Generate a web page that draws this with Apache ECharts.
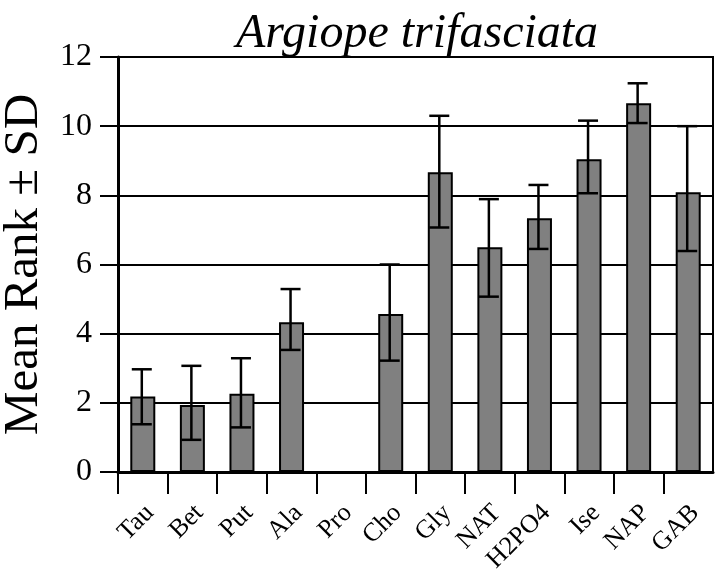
<!DOCTYPE html>
<html>
<head>
<meta charset="utf-8">
<script src="https://cdn.jsdelivr.net/npm/echarts@6/dist/echarts.min.js"></script>
<style>
html,body{margin:0;padding:0;background:#fff;}
#chart{width:715px;height:575px;}
</style>
</head>
<body>
<div id="chart"></div>
<script>
const categories = ['Tau','Bet','Put','Ala','Pro','Cho','Gly','NAT','H2PO4','Ise','NAP','GAB'];
const meanRank = [2.18, 1.94, 2.26, 4.33, 0, 4.57, 8.67, 6.50, 7.34, 9.04, 10.66, 8.09];
const sdUpper  = [2.97, 3.07, 3.29, 5.29, null, 6.00, 10.30, 7.89, 8.30, 10.16, 11.24, 10.00];
const sdLower  = [1.38, 0.93, 1.29, 3.53, null, 3.22, 7.07, 5.07, 6.45, 8.06, 10.09, 6.39];
const yMin = 0, yMax = 12, yStep = 2;
const titleText = 'Argiope trifasciata';
const yName = 'Mean Rank \u00B1 SD';

const FONT = "'Liberation Serif','Times New Roman',serif";

const errData = [];
categories.forEach((c, i) => {
  if (sdUpper[i] != null && sdLower[i] != null) errData.push([i, sdLower[i], sdUpper[i]]);
});
const tickSlots = categories.map(() => '').concat(['']);

const chart = echarts.init(document.getElementById('chart'), null, {renderer: 'canvas'});
chart.setOption({
  animation: false,
  backgroundColor: '#fff',
  title: {
    text: titleText,
    left: 412, top: 5, textAlign: 'center',
    textStyle: {fontFamily: FONT, fontStyle: 'italic', fontWeight: 'normal', fontSize: 48, color: '#000'}
  },
  grid: [
    {left: 118, right: 2, top: 57, bottom: 103, show: true, borderColor: '#000', borderWidth: 2, containLabel: false, outerBoundsMode: 'none'},
    {left: 125, width: 595, top: 57, bottom: 103, show: false, containLabel: false, outerBoundsMode: 'none'}
  ],
  xAxis: [
    {
      type: 'category', data: categories, gridIndex: 0, position: 'bottom',
      axisLine: {show: true, lineStyle: {color: '#000', width: 3}},
      axisTick: {show: false}, axisLabel: {show: false}, splitLine: {show: false}
    },
    {
      type: 'category', data: tickSlots, gridIndex: 0, position: 'bottom', boundaryGap: false,
      axisLine: {show: false},
      axisTick: {show: true, length: 22, interval: (i) => i < categories.length, lineStyle: {color: '#000', width: 2}},
      axisLabel: {show: false}, splitLine: {show: false}
    },
    {
      type: 'category', data: categories, gridIndex: 1, position: 'bottom',
      axisLine: {show: false}, axisTick: {show: false}, splitLine: {show: false},
      axisLabel: {show: true, interval: 0, rotate: 45, margin: 37, fontFamily: FONT, fontSize: 26, color: '#000', hideOverlap: false}
    }
  ],
  yAxis: [
    {
      type: 'value', gridIndex: 0, min: yMin, max: yMax, interval: yStep,
      name: yName, nameLocation: 'middle', nameGap: 54, nameRotate: 90,
      nameTextStyle: {fontFamily: FONT, fontSize: 49, color: '#000'},
      axisLine: {show: true, lineStyle: {color: '#000', width: 3}},
      axisTick: {show: true, inside: false, length: 18, lineStyle: {color: '#000', width: 2}},
      axisLabel: {margin: 26, fontFamily: FONT, fontSize: 32, color: '#000'},
      splitLine: {show: true, lineStyle: {color: '#000', width: 2}}
    },
    {
      type: 'value', gridIndex: 1, min: yMin, max: yMax, show: false
    }
  ],
  series: [
    {
      type: 'bar', xAxisIndex: 0, yAxisIndex: 0, data: meanRank, barWidth: 25,
      itemStyle: {color: '#808080', borderColor: '#000', borderWidth: 2}
    },
    {
      type: 'custom', xAxisIndex: 0, yAxisIndex: 0, data: errData, z: 5,
      renderItem: function (params, api) {
        const x = api.value(0);
        const lo = api.coord([x, api.value(1)]);
        const hi = api.coord([x, api.value(2)]);
        const cx = lo[0] - 1;
        const hw = 10;
        const st = {stroke: '#000', lineWidth: 2.5};
        return {
          type: 'group',
          children: [
            {type: 'line', shape: {x1: cx, y1: lo[1], x2: cx, y2: hi[1]}, style: st},
            {type: 'line', shape: {x1: cx - hw, y1: hi[1], x2: cx + hw, y2: hi[1]}, style: st},
            {type: 'line', shape: {x1: cx - hw, y1: lo[1], x2: cx + hw, y2: lo[1]}, style: st}
          ]
        };
      }
    }
  ]
});
</script>
</body>
</html>
